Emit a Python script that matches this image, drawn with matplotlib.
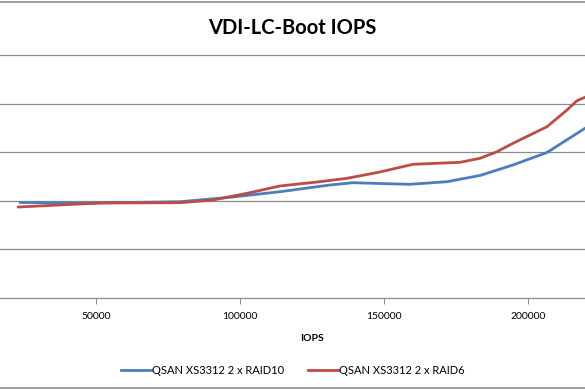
import numpy as np
import matplotlib
matplotlib.use("Agg")
from matplotlib import pyplot as plt
from matplotlib.lines import Line2D

plt.rcParams['font.family'] = ['Lato', 'DejaVu Sans']

# values (y in gridline units, no labels shown)
raid10_iops = [23611, 50000, 79170, 96530, 113890, 131250, 139240, 148610,
               159030, 171880, 183330, 194790, 206600, 219790, 224000]
raid10_val = [1.965, 1.955, 1.981, 2.072, 2.187, 2.325, 2.372, 2.356,
              2.339, 2.393, 2.521, 2.737, 2.994, 3.492, 3.65]

raid6_iops = [22920, 51390, 79170, 90630, 102430, 113890, 127780, 137150,
              148610, 160070, 176390, 183330, 189240, 194790, 206600,
              213540, 217010, 219790, 224000]
raid6_val = [1.872, 1.955, 1.961, 2.016, 2.154, 2.305, 2.393, 2.463,
             2.593, 2.751, 2.792, 2.874, 3.010, 3.183, 3.525,
             3.868, 4.060, 4.130, 4.2]

xticks = [50000, 100000, 150000, 200000]
labels = ['QSAN XS3312 2 x RAID10', 'QSAN XS3312 2 x RAID6']
colors = ['#4A7EBB', '#BE4B48']

fig = plt.figure(figsize=(5.85, 3.9), dpi=100)
ax = fig.add_axes([0, 92 / 390, 1, 243 / 390])

ax.plot(raid10_iops, raid10_val, color=colors[0], lw=2.0,
        solid_capstyle='round', solid_joinstyle='round')
ax.plot(raid6_iops, raid6_val, color=colors[1], lw=2.0,
        solid_capstyle='round', solid_joinstyle='round')

ax.set_xlim(16667, 219792)
ax.set_ylim(0, 5)
for g in [1, 2, 3, 4, 5]:
    ax.axhline(g, color='#8c8c8c', lw=0.9, zorder=0, clip_on=False)

for s in ['left', 'right', 'top']:
    ax.spines[s].set_visible(False)
ax.spines['bottom'].set_color('#8c8c8c')
ax.spines['bottom'].set_linewidth(0.9)

ax.set_yticks([])
ax.set_xticks(xticks)
ax.set_xticklabels([str(t) for t in xticks], fontsize=7.5)
ax.tick_params(axis='x', length=4, color='#8c8c8c', pad=6)
ax.set_xlabel('IOPS', fontsize=7.5, fontweight='bold')
ax.xaxis.set_label_coords(312 / 585, -36 / 243)

fig.text(0.5, 1 - 28 / 390, 'VDI-LC-Boot IOPS', ha='center', va='center',
         fontsize=14.5, fontweight='bold')

handles = [Line2D([], [], color=c, lw=2.0) for c in colors]
fig.legend(handles, labels, loc='center', bbox_to_anchor=(293 / 585, 1 - 370 / 390),
           ncol=2, frameon=False, fontsize=8, handlelength=2.7,
           handletextpad=0.05, columnspacing=2.2)

# chart border lines
fig.add_artist(Line2D([0, 1], [1 - 1.5 / 390] * 2, color='#8c8c8c', lw=1.2))
fig.add_artist(Line2D([0, 1], [1 - 388 / 390] * 2, color='#8c8c8c', lw=1.2))

fig.savefig('out.png', dpi=100)
